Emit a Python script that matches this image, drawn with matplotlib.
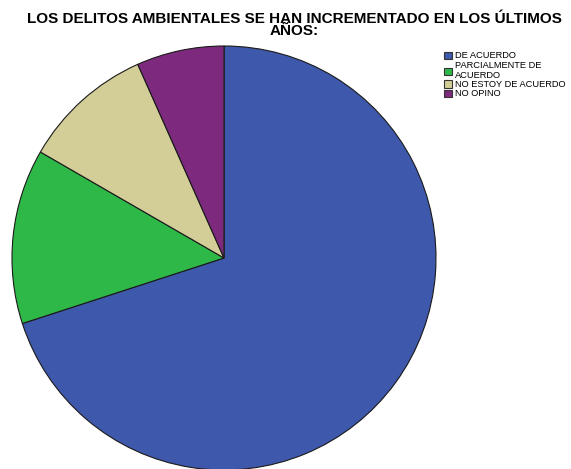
import matplotlib
matplotlib.use("Agg")
import matplotlib.pyplot as plt
from matplotlib.patches import Rectangle

labels = ["DE ACUERDO", "PARCIALMENTE DE\nACUERDO", "NO ESTOY DE ACUERDO", "NO OPINO"]
values = [21, 4, 3, 2]
colors = ["#3E58AC", "#2EB848", "#D3CE98", "#7D2A7E"]
title = "LOS DELITOS AMBIENTALES SE HAN INCREMENTADO EN LOS ÚLTIMOS\nAÑOS:"

plt.rcParams['font.family'] = ['Liberation Sans', 'DejaVu Sans']
W, H = 571, 469
fig = plt.figure(figsize=(W/100, H/100), dpi=100)
fig.patch.set_facecolor("white")

cx, cy, r = 224, 258, 212
ax = fig.add_axes([(cx - r)/W, (H - cy - r)/H, 2*r/W, 2*r/H])
wedges, _ = ax.pie(values, colors=colors, startangle=90, counterclock=False,
                   wedgeprops=dict(edgecolor="#1a1a1a", linewidth=0.8))
ax.set_aspect("equal")
ax.set_xlim(-1.0, 1.0)
ax.set_ylim(-1.0, 1.0)

fig.text(294/W, 1 - 12/H, title, ha="center", va="top", fontsize=11,
         fontweight="bold", linespacing=0.78, multialignment="center")

# manual legend
line_h = 9.5
y0 = 55.5
box_w = 8
y = y0
for lab, col in zip(labels, colors):
    nl = lab.count("\n") + 1
    block_center = y + (nl - 1) * line_h / 2
    by = block_center + (1.5 if nl > 1 else 0)
    fig.patches.append(Rectangle((444/W, 1 - (by + 3.8)/H), box_w/W, 7.5/H,
                                 transform=fig.transFigure, facecolor=col,
                                 edgecolor="#333333", linewidth=0.8))
    for j, part in enumerate(lab.split("\n")):
        fig.text(455/W, 1 - (y + j*line_h + 3)/H, part, ha="left", va="baseline",
                 fontsize=6.7)
    y += nl * line_h

fig.savefig("out.png", dpi=100)
